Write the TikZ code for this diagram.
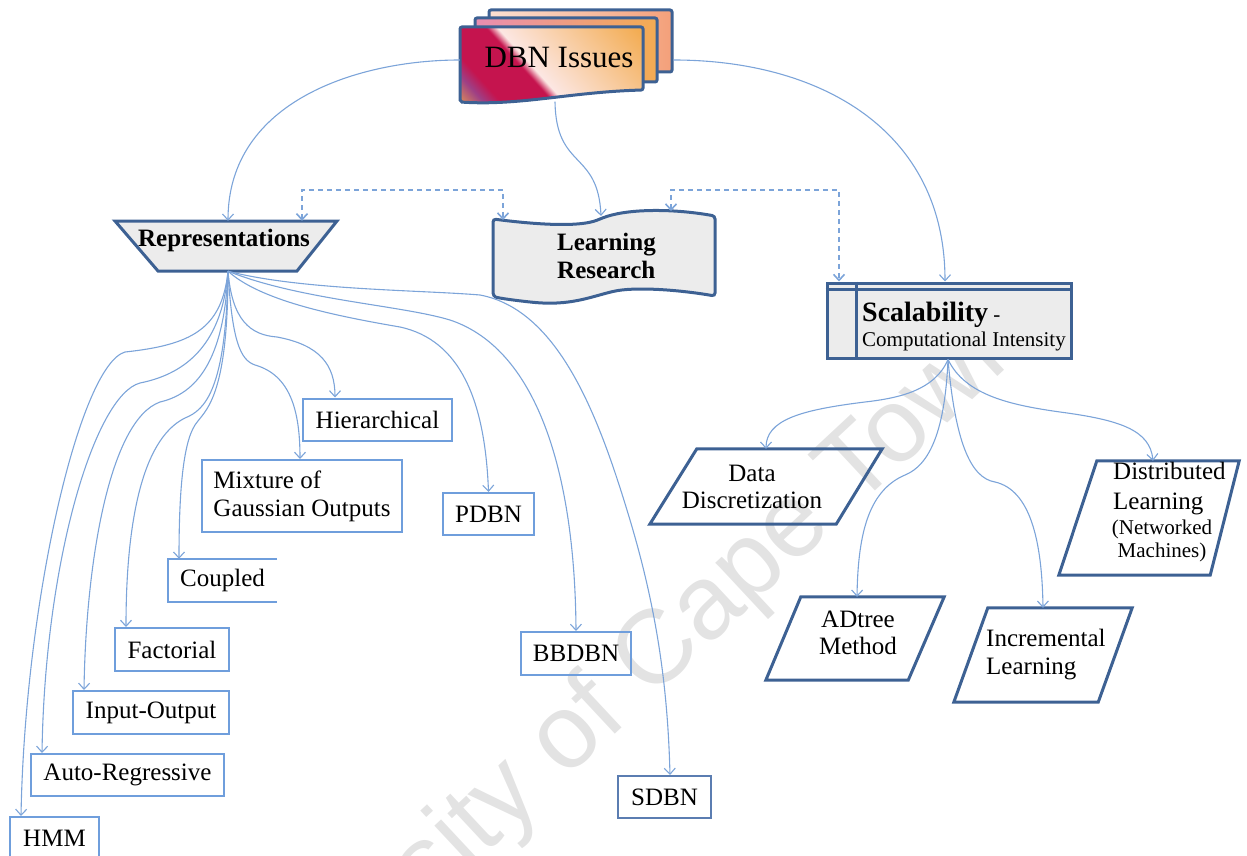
\documentclass[tikz,border=0pt]{standalone}
\usepackage{fontspec}
\setmainfont{Liberation Serif}
\newfontfamily\markfont{Liberation Sans}
\usetikzlibrary{arrows.meta}

\definecolor{linkblue}{HTML}{7CA4D9}
\definecolor{boxblue}{HTML}{6F9EDC}
\definecolor{slateblue}{HTML}{5B7DB1}
\definecolor{deepblue}{HTML}{3D6193}
\definecolor{panelgray}{HTML}{ECECEC}
\definecolor{markgray}{HTML}{E3E3E3}
\definecolor{crimson}{HTML}{C5144E}
\definecolor{plum}{HTML}{9E3F85}
\definecolor{amber}{HTML}{F3AC52}
\definecolor{ember}{HTML}{DC8E58}
\definecolor{blush}{HTML}{FCE7E3}
\definecolor{peach}{HTML}{FCE0D2}
\definecolor{rosy}{HTML}{E98DB2}
\definecolor{salmon}{HTML}{F4A07A}

% diagonal colour bands of the front sheet (laid on a square, then clipped)
\pgfdeclarehorizontalshading{frontsheet}{100bp}{%
  color(0bp)=(ember); color(32bp)=(ember); color(35.5bp)=(plum);
  color(38bp)=(crimson); color(45.4bp)=(crimson); color(47bp)=(blush);
  color(67bp)=(amber); color(100bp)=(amber)}

\tikzset{
  link/.style={draw=linkblue, line width=1.1pt, -{Straight Barb[length=6pt,width=11pt]}},
  twoway/.style={draw=linkblue, line width=1.6pt, dash pattern=on 5pt off 4pt,
    {Straight Barb[length=6pt,width=11pt]}-{Straight Barb[length=6pt,width=11pt]}},
  leaf/.style={draw=boxblue, line width=2pt, inner sep=0pt, minimum height=42pt,
    font=\fontsize{25}{28}\selectfont},
  outline/.style={draw=deepblue, line width=3pt, line join=miter},
  panel/.style={outline, fill=panelgray},
  sheet/.style={draw=deepblue, line width=3pt, rounded corners=2pt, inner sep=0pt},
  hull/.style={inner sep=0pt},
  caption/.style={inner sep=0pt, font=\fontsize{25}{27}\selectfont},
  heading/.style={inner sep=0pt, font=\bfseries\fontsize{25}{28}\selectfont},
}

\begin{document}
\begin{tikzpicture}[x=1pt,y=-1pt]
\useasboundingbox (0,0) rectangle (1247,856);
\clip (0,0) rectangle (1247,856);

% watermark
\node[rotate=43, anchor=base, inner sep=0pt, text=markgray,
  font=\markfont\fontsize{105}{105}\selectfont] (mark) at (621,728) {University of Cape Town};

% ---------- DBN Issues: stack of sheets ----------
\node[sheet, minimum width=183pt, minimum height=62pt, left color=peach, right color=salmon]
  (sheet3) at (580.5,41) {};
\node[sheet, minimum width=182pt, minimum height=64pt, left color=rosy, middle color=blush, right color=amber]
  (sheet2) at (566,50) {};
\begin{scope}
  \clip (460,27) -- (643,27) -- (643,90) .. controls (570,92) and (520,106) .. (460,102) -- cycle;
  \shade[shading=frontsheet, shading angle=42] (421,-66) rectangle (681,194);
\end{scope}
\path[sheet] (460,27) -- (643,27) -- (643,90) .. controls (570,92) and (520,106) .. (460,102) -- cycle;
\node[hull, minimum width=183pt, minimum height=75pt] (dbn) at (551.5,64) {};
\node[inner sep=0pt, font=\fontsize{31}{34}\selectfont] (dbnlbl) at (559,58) {DBN Issues};

% ---------- Representations ----------
\path[panel] (115,221) -- (337,221) -- (297,271) -- (158,271) -- cycle;
\node[hull, minimum width=222pt, minimum height=50pt] (rep) at (226,246) {};
\node[heading] (replbl) at (224,240) {Representations};

% ---------- Learning Research ----------
\path[panel, rounded corners=3pt] (493,219)
  .. controls (540,225) and (580,227) .. (600,219)
  .. controls (625,209) and (670,208) .. (715,216) -- (715,296)
  .. controls (680,290) and (640,287) .. (615,291)
  .. controls (590,297) and (570,306) .. (530,302)
  .. controls (512,300) and (498,298) .. (493,296) -- cycle;
\node[hull, minimum width=222pt, minimum height=92pt] (lr) at (604,257) {};
\node[heading, align=left, anchor=west] (lrlbl) at (557,256) {Learning\\Research};
\coordinate (lr-main) at (601,216);
\coordinate (lr-left) at (503,220);
\coordinate (lr-right) at (671,211);

% ---------- Scalability ----------
\node[panel, minimum width=244pt, minimum height=75pt, inner sep=0pt] (scal) at (949,320.5) {};
\draw[deepblue, line width=2.5pt] ([yshift=-8pt]scal.north west) -- ([yshift=-8pt]scal.north east);
\draw[deepblue, line width=2.5pt] ([xshift=31pt]scal.north west) -- ([xshift=31pt]scal.south west);
\node[anchor=base west, inner sep=0pt, font=\fontsize{28}{30}\selectfont] (scaltitle) at (862,321)
  {\textbf{Scalability}\fontsize{21}{24}\selectfont\ -};
\node[anchor=base west, inner sep=0pt, font=\fontsize{21}{24}\selectfont] (scalsub) at (862,346)
  {Computational Intensity};

% ---------- representation types ----------
\node[leaf, minimum width=149pt] (hier) at (377.5,419.5) {Hierarchical};
\node[leaf, minimum width=200pt, minimum height=72pt, align=left] (mix) at (302,496)
  {Mixture of\\Gaussian Outputs};
\node[leaf, minimum width=91pt] (pdbn) at (488.5,514) {PDBN};
\node[hull, minimum width=109pt, minimum height=43pt, font=\fontsize{25}{28}\selectfont] (coup) at (222.5,580.5) {Coupled};
\draw[boxblue, line width=2pt] (coup.north east) -- (coup.north west) -- (coup.south west) -- (coup.south east);
\node[leaf, minimum width=114pt, minimum height=43pt] (fact) at (172,649.5) {Factorial};
\node[leaf, minimum width=156pt, minimum height=43pt] (io) at (151,712.5) {Input-Output};
\node[leaf, minimum width=193pt] (ar) at (127.5,775) {Auto-Regressive};
\node[leaf, minimum width=89pt] (hmm) at (54.5,838) {HMM};
\node[leaf, minimum width=110pt, minimum height=43pt] (bbdbn) at (576,653.5) {BBDBN};
\node[leaf, draw=slateblue, minimum width=93pt] (sdbn) at (664.5,797) {SDBN};

% ---------- scalability approaches ----------
\node[hull, minimum width=232pt, minimum height=75pt] (dd) at (766,486.5) {};
\draw[outline] ([xshift=47pt]dd.north west) -- (dd.north east) -- ([xshift=-46pt]dd.south east) -- (dd.south west) -- cycle;
\node[caption, align=center] (ddlbl) at (752,487) {Data\\Discretization};

\node[hull, minimum width=178pt, minimum height=83pt] (adt) at (855,638.5) {};
\draw[outline] ([xshift=35pt]adt.north west) -- (adt.north east) -- ([xshift=-36pt]adt.south east) -- (adt.south west) -- cycle;
\node[caption, align=center] (adtlbl) at (858,633) {ADtree\\Method};

\node[hull, minimum width=178pt, minimum height=94pt] (inc) at (1043,655) {};
\draw[outline] ([xshift=34pt]inc.north west) -- (inc.north east) -- ([xshift=-34pt]inc.south east) -- (inc.south west) -- cycle;
\node[caption, align=left, anchor=west, font=\fontsize{25}{28}\selectfont] (inclbl) at (986,655) {Incremental\\Learning};

\node[hull, minimum width=180pt, minimum height=114pt] (dist) at (1149,518) {};
\draw[outline] ([xshift=38pt]dist.north west) -- (dist.north east) -- ([xshift=-29pt]dist.south east) -- (dist.south west) -- cycle;
\node[caption, align=left, anchor=west, font=\fontsize{25}{30}\selectfont] (distlbl) at (1113,489) {Distributed\\Learning};
\node[inner sep=0pt, align=center, font=\fontsize{21}{23}\selectfont] (distnote) at (1162,541) {(Networked\\Machines)};

% ---------- connectors from DBN Issues ----------
\draw[link] ([yshift=4pt]dbn.west) .. controls (360,60) and (228,100) .. ([xshift=2pt]rep.north);
\draw[link] ([xshift=3.5pt]dbn.south) .. controls (556,170) and (598,150) .. (lr-main);
\draw[link] ([yshift=-19pt]sheet3.east) .. controls (820,60) and (945,130) .. ([xshift=-4pt]scal.north);

% dashed cross links
\draw[twoway] ([xshift=76pt]rep.north) -- ++(0,-31) -| (lr-left);
\draw[twoway] (lr-right) -- (671,190) -| ([xshift=-110pt]scal.north);

% ---------- connectors from Representations ----------
\draw[link] ([xshift=2pt]rep.south) .. controls (222,330) and (190,345) .. (125,352)
  .. controls (80,365) and (25,600) .. ([xshift=-33.5pt]hmm.north);
\draw[link] ([xshift=2pt]rep.south) .. controls (222,350) and (180,375) .. (140,383)
  .. controls (95,395) and (45,560) .. ([xshift=-85.5pt]ar.north);
\draw[link] ([xshift=2pt]rep.south) .. controls (224,370) and (190,395) .. (160,402)
  .. controls (110,420) and (86,560) .. ([xshift=-67pt]io.north);
\draw[link] ([xshift=2pt]rep.south) .. controls (226,390) and (205,410) .. (185,418)
  .. controls (140,440) and (126,530) .. ([xshift=-46pt]fact.north);
\draw[link] ([xshift=2pt]rep.south) .. controls (228,400) and (205,410) .. (195,425)
  .. controls (182,445) and (179,500) .. ([xshift=-43.5pt]coup.north);
\draw[link] ([xshift=2pt]rep.south) .. controls (232,340) and (240,360) .. (255,365)
  .. controls (290,375) and (300,410) .. ([xshift=-2pt]mix.north);
\draw[link] ([xshift=2pt]rep.south) .. controls (232,320) and (250,335) .. (277,337)
  .. controls (320,345) and (335,365) .. ([xshift=-42.5pt]hier.north);
\draw[link] ([xshift=2pt]rep.south) .. controls (260,300) and (330,315) .. (400,327)
  .. controls (460,340) and (485,400) .. (pdbn.north);
\draw[link] ([xshift=2pt]rep.south) .. controls (300,300) and (400,305) .. (450,320)
  .. controls (540,350) and (575,480) .. (bbdbn.north);
\draw[link] ([xshift=2pt]rep.south) .. controls (300,290) and (420,290) .. (480,295)
  .. controls (560,310) and (600,420) .. (630,520)
  .. controls (660,620) and (668,700) .. ([xshift=5.5pt]sdbn.north);

% ---------- connectors from Scalability ----------
\draw[link] ([xshift=-1pt]scal.south) .. controls (935,390) and (900,398) .. (865,402)
  .. controls (800,410) and (766,420) .. (dd.north);
\draw[link] ([xshift=-1pt]scal.south) .. controls (945,430) and (930,465) .. (905,475)
  .. controls (870,490) and (858,530) .. ([xshift=2pt]adt.north);
\draw[link] ([xshift=-1pt]scal.south) .. controls (955,440) and (970,478) .. (995,482)
  .. controls (1030,490) and (1042,540) .. (inc.north);
\draw[link] ([xshift=-1pt]scal.south) .. controls (965,395) and (1010,405) .. (1060,412)
  .. controls (1120,420) and (1150,430) .. ([xshift=4pt]dist.north);
\end{tikzpicture}
\end{document}
